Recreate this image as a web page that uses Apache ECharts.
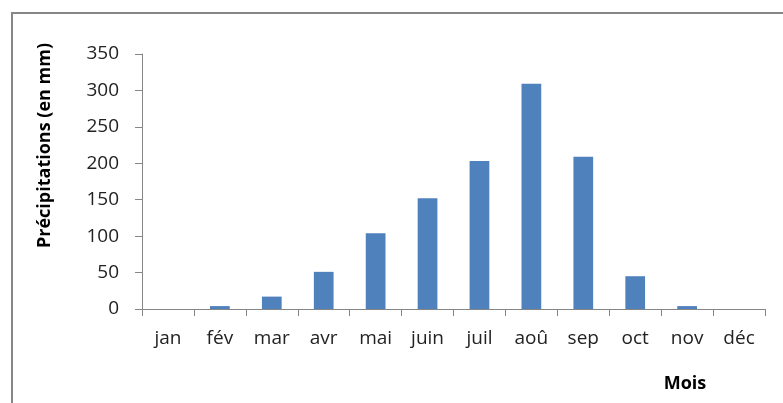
<!DOCTYPE html>
<html>
<head>
<meta charset="utf-8">
<script src="https://cdn.jsdelivr.net/npm/echarts@6/dist/echarts.min.js"></script>
<style>
  html, body { margin: 0; padding: 0; background: #fff; }
  #chart { width: 783px; height: 403px; }
</style>
</head>
<body>
<div id="chart"></div>
<script>
// précipitations mensuelles (mm)
const mois = ['jan', 'fév', 'mar', 'avr', 'mai', 'juin', 'juil', 'aoû', 'sep', 'oct', 'nov', 'déc']
const precip = [0, 4, 17, 51, 104, 152, 203, 309, 209, 45, 4, 0]

const AXIS = '#868686'
const FONT = '"Open Sans", sans-serif'

const chart = echarts.init(document.getElementById('chart'))
chart.setOption({
  animation: false,
  backgroundColor: '#fff',
  grid: { left: 142, top: 54, right: 18, bottom: 94 },
  graphic: [
    {
      type: 'polyline',
      shape: { points: [[12, 410], [12, 13], [790, 13]] },
      style: { stroke: AXIS, lineWidth: 2, fill: null }
    }
  ],
  xAxis: {
    type: 'category',
    data: mois,
    boundaryGap: true,
    axisLine: { lineStyle: { color: AXIS, width: 1 } },
    axisTick: { show: true, interval: 0, length: 7, lineStyle: { color: AXIS } },
    axisLabel: { color: '#222', fontFamily: FONT, fontSize: 19, margin: 20, interval: 0 },
    name: 'Mois',
    nameLocation: 'end',
    nameGap: -80,
    nameTextStyle: {
      color: '#000', fontFamily: FONT, fontSize: 18, fontWeight: 'bold',
      align: 'center', verticalAlign: 'top', padding: [66, 0, 0, 0]
    }
  },
  yAxis: {
    type: 'value',
    min: 0,
    max: 350,
    interval: 50,
    axisLine: { show: true, lineStyle: { color: AXIS, width: 1 } },
    axisTick: { show: true, length: 7, lineStyle: { color: AXIS } },
    splitLine: { show: false },
    axisLabel: { color: '#222', fontFamily: FONT, fontSize: 19, margin: 23 },
    name: 'Précipitations (en mm)',
    nameLocation: 'middle',
    nameGap: 88,
    nameTextStyle: {
      color: '#000', fontFamily: FONT, fontSize: 18, fontWeight: 'bold',
      padding: [0, 0, 0, 72]
    }
  },
  series: [
    {
      type: 'bar',
      data: precip,
      barWidth: '38%',
      itemStyle: { color: '#4f81bd' }
    }
  ]
})
</script>
</body>
</html>
